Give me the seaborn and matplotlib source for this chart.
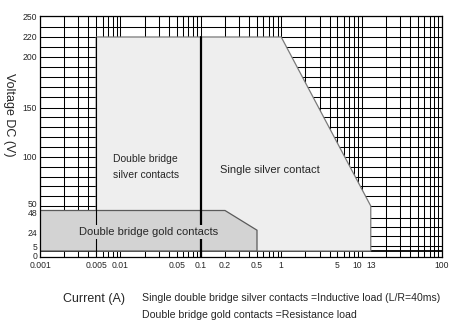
import numpy as np
import pandas as pd
import matplotlib
matplotlib.use("Agg")
import matplotlib.pyplot as plt
import matplotlib.transforms as mtransforms
import seaborn as sns

# ---------------- data ----------------
silver_x = [0.005, 0.005, 1, 13, 13, 0.005]
silver_y = [5, 220, 220, 50, 5, 5]
gold_x = [0.001, 0.2, 0.5, 0.5, 0.001, 0.001]
gold_y = [48, 48, 26, 5, 5, 48]
divider_x = [0.1, 0.1]
divider_y = [0, 220]
edge_x = [0.005, 0.005]
edge_y = [0, 220]

x_ticks = [0.001, 0.005, 0.01, 0.05, 0.1, 0.2, 0.5, 1, 5, 10, 13, 100]
x_tick_labels = ["0.001", "0.005", "0.01", "0.05", "0.1", "0.2", "0.5", "1", "5", "10", "13", "100"]
y_ticks = [0, 5, 24, 48, 50, 100, 150, 200, 220, 250]
y_tick_labels = ["0", "5", "24", "48", "50", "100", "150", "200", "220", "250"]
y_grid = [10, 20, 30, 40, 50, 60, 70, 80, 90, 100, 110, 120, 130, 140, 150,
          160, 170, 180, 190, 200, 210, 220, 235, 250]
x_grid = [m * 10.0 ** k for k in range(-3, 2) for m in range(1, 10)] + [100]

# non-uniform voltage axis of the original drawing
y_anchor = [0, 5, 24, 48, 50, 100, 150, 200, 220, 250]
y_place = [0, 6, 25, 46.5, 51, 100, 149.5, 200.5, 220, 241]


def _interp(v, xs, ys):
    v = np.asarray(v, dtype=float)
    out = np.interp(v, xs, ys)
    s0 = (ys[1] - ys[0]) / (xs[1] - xs[0])
    s1 = (ys[-1] - ys[-2]) / (xs[-1] - xs[-2])
    out = np.where(v < xs[0], ys[0] + (v - xs[0]) * s0, out)
    out = np.where(v > xs[-1], ys[-1] + (v - xs[-1]) * s1, out)
    return out


def fwd(v):
    return _interp(v, y_anchor, y_place)


def inv(v):
    return _interp(v, y_place, y_anchor)


# ---------------- figure ----------------
sns.set_theme(style="white")
plt.rcParams["font.family"] = ["Liberation Sans", "DejaVu Sans"]

fig = plt.figure(figsize=(4.52, 3.25), dpi=100)
ax = fig.add_axes([40 / 452, 1 - 257 / 325, 402 / 452, 241 / 325])
ax.set_xscale("log")
ax.set_yscale("function", functions=(fwd, inv))
ax.set_xlim(0.001, 100)
ax.set_ylim(0, 250)

# grid
ax.vlines(x_grid, 0, 250, colors="black", linewidth=0.75, zorder=1)
ax.hlines(y_grid, 0.001, 100, colors="black", linewidth=0.75, zorder=1)
ax.hlines([5], 0.001, 100, colors="black", linewidth=1.3, zorder=1)

ax.set_xticks(x_ticks)
ax.set_xticklabels(x_tick_labels)
ax.set_yticks(y_ticks)
ax.set_yticklabels(y_tick_labels)
ax.minorticks_off()
ax.grid(False)
ax.tick_params(which="major", length=0, pad=2, labelsize=6.2)
ax.tick_params(axis="x", pad=3)

# small nudges of crowded tick labels (points)
nudges_y = {"50": 2.0, "48": -1.5, "5": 3.0, "0": 1.2}
for lab in ax.get_yticklabels():
    dy = nudges_y.get(lab.get_text(), 0)
    if dy:
        lab.set_transform(lab.get_transform() +
                          mtransforms.ScaledTranslation(0, dy / 72, fig.dpi_scale_trans))
for lab in ax.get_xticklabels():
    if lab.get_text() == "10":
        lab.set_transform(lab.get_transform() +
                          mtransforms.ScaledTranslation(-3 / 72, 0, fig.dpi_scale_trans))

for sp in ax.spines.values():
    sp.set_color("black")
    sp.set_linewidth(0.9)
    sp.set_zorder(5)

# regions
ax.fill(silver_x, silver_y, facecolor="#eeeeee", edgecolor="#7a7a7a",
        linewidth=0.9, zorder=2)
ax.fill(gold_x, gold_y, facecolor="#d3d3d3", edgecolor="#5a5a5a",
        linewidth=0.9, zorder=2.5)

sns.lineplot(x=edge_x, y=edge_y, ax=ax, color="black", linewidth=0.8,
             sort=False, estimator=None, zorder=3)
sns.lineplot(x=divider_x, y=divider_y, ax=ax, color="black", linewidth=1.6,
             sort=False, estimator=None, zorder=3)

ax.text(0.0081, 90, "Double bridge\nsilver contacts", fontsize=7.5,
        ha="left", va="center", linespacing=1.8, zorder=4)
ax.text(0.173, 87, "Single silver contact", fontsize=8,
        ha="left", va="center", zorder=4)
ax.text(0.0225, 24, "Double bridge gold contacts", fontsize=8,
        ha="center", va="center", zorder=4,
        bbox=dict(facecolor="#d3d3d3", edgecolor="none", pad=1.5))

ax.set_xlabel("")
ax.set_ylabel("")

fig.text(9 / 452, 1 - 115 / 325, "Voltage DC (V)", rotation=270,
         ha="center", va="center", fontsize=9)
fig.text(63 / 452, 1 - 299 / 325, "Current (A)", ha="left", va="center",
         fontsize=9)
fig.text(142 / 452, 1 - 298 / 325,
         "Single double bridge silver contacts =Inductive load (L/R=40ms)",
         ha="left", va="center", fontsize=7.6)
fig.text(142 / 452, 1 - 315 / 325,
         "Double bridge gold contacts =Resistance load",
         ha="left", va="center", fontsize=7.6)

fig.savefig("out.png", dpi=100)
